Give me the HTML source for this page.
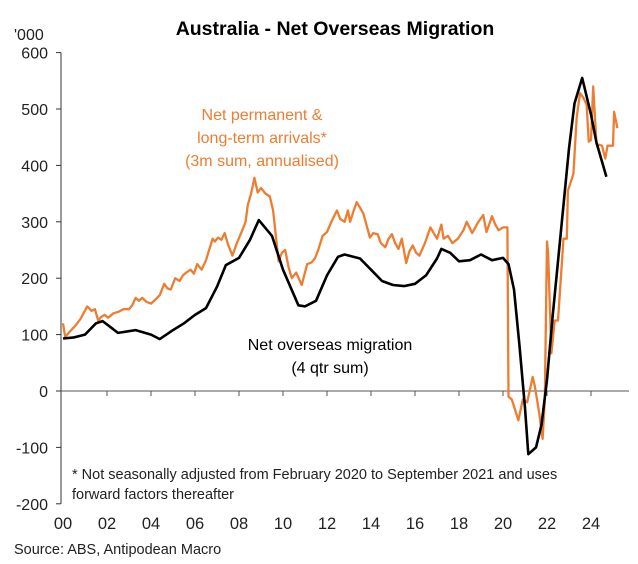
<!DOCTYPE html>
<html><head><meta charset="utf-8"><style>
html,body{margin:0;padding:0;background:#fff;}
svg{display:block;font-family:"Liberation Sans",Arial,sans-serif;}
</style></head><body>
<svg id="chart" width="638" height="564" viewBox="0 0 638 564">
<text x="335" y="35" text-anchor="middle" font-size="19.5" font-weight="bold" fill="#000">Australia - Net Overseas Migration</text>
<text x="14" y="40" font-size="16" fill="#222">'000</text>
<g id="yaxis"></g>
<g id="xaxis"></g>
<g id="series"></g>
<g fill="#ED7D31" font-size="16" text-anchor="middle">
<text x="262" y="120">Net permanent &amp;</text>
<text x="262" y="143">long-term arrivals*</text>
<text x="262" y="166">(3m sum, annualised)</text>
</g>
<g fill="#000" font-size="16" text-anchor="middle">
<text x="330" y="350">Net overseas migration</text>
<text x="330" y="373">(4 qtr sum)</text>
</g>
<g fill="#222" font-size="14.5">
<text x="72" y="479">* Not seasonally adjusted from February 2020 to September 2021 and uses</text>
<text x="72" y="499">forward factors thereafter</text>
</g>
<text x="14" y="554" font-size="14.5" fill="#222">Source: ABS, Antipodean Macro</text>
</svg>
<script>
const yTicks=[600,500,400,300,200,100,0,-100,-200];
const xTickLabels=["00","02","04","06","08","10","12","14","16","18","20","22","24"];
const xTickYears=[0,2,4,6,8,10,12,14,16,18,20,22,24];
const nomYears=[0,0.5,1,1.5,1.8,2.2,2.5,3.3,4,4.4,5,5.5,6,6.5,7,7.4,8,8.5,8.9,9.5,10,10.7,11,11.5,12,12.5,12.8,13.5,14,14.5,15,15.5,16,16.5,17,17.2,17.6,18,18.5,19,19.5,20,20.25,20.5,20.75,21,21.15,21.5,21.75,22,22.25,22.5,22.75,23,23.25,23.6,24,24.25,24.7];
const nomValues=[93,95,100,120,124,112,103,108,100,92,108,120,135,147,185,223,236,268,303,275,215,152,150,160,205,238,242,235,215,195,188,186,190,205,235,252,245,230,232,242,232,236,225,180,80,-30,-112,-100,-60,20,130,230,330,430,510,555,490,440,380];
const npltYears=[0,0.1,0.3,0.55,0.8,1.1,1.3,1.45,1.6,1.75,1.9,2.05,2.3,2.5,2.75,3.0,3.15,3.3,3.45,3.6,3.8,4.0,4.2,4.4,4.6,4.75,4.9,5.1,5.3,5.45,5.6,5.8,5.95,6.1,6.3,6.5,6.8,6.9,7.05,7.2,7.35,7.5,7.7,7.9,8.15,8.3,8.4,8.55,8.7,8.85,9.0,9.2,9.4,9.55,9.8,9.95,10.1,10.25,10.4,10.6,10.85,11.1,11.3,11.45,11.6,11.8,12.0,12.2,12.45,12.6,12.8,12.95,13.05,13.2,13.35,13.5,13.65,13.95,14.1,14.3,14.45,14.65,14.8,14.95,15.1,15.25,15.4,15.6,15.75,15.9,16.05,16.2,16.45,16.7,16.85,17.0,17.2,17.3,17.5,17.7,17.95,18.2,18.35,18.6,18.85,19.1,19.25,19.5,19.65,19.8,20.0,20.2,20.25,20.4,20.7,20.9,21.1,21.35,21.45,21.65,21.8,21.9,22.0,22.05,22.2,22.35,22.5,22.75,22.9,22.95,23.2,23.35,23.5,23.65,23.8,23.9,24.0,24.1,24.25,24.5,24.65,24.75,25.0,25.05,25.2];
const npltValues=[120,96,105,115,128,150,142,145,125,132,135,130,138,140,145,145,152,165,160,165,158,155,162,170,190,182,180,200,195,205,210,215,208,225,215,232,270,265,272,268,280,260,240,262,285,300,330,350,378,352,360,350,345,320,230,245,250,220,200,210,188,225,228,235,250,275,282,300,320,305,300,320,300,318,335,325,315,272,280,278,262,255,270,278,262,252,270,227,248,258,245,240,262,290,280,270,295,270,275,262,270,285,300,280,298,312,282,310,295,285,290,290,-10,-15,-52,-15,-20,25,8,-40,-85,-15,265,245,67,125,125,270,270,355,385,485,528,520,508,442,445,540,438,435,412,435,435,495,466];

const NS="http://www.w3.org/2000/svg";
const X0=63, PXY=22, Y0=391, PXV=0.564, AXL=61, AXR=629;
function xs(yr){return X0+yr*PXY;}
function ys(v){return Y0-v*PXV;}
function mk(tag,attrs,parent){const e=document.createElementNS(NS,tag);for(const k in attrs)e.setAttribute(k,attrs[k]);parent.appendChild(e);return e;}
const ya=document.getElementById('yaxis'), xa=document.getElementById('xaxis'), se=document.getElementById('series');
const yl=mk('line',{x1:AXL,x2:AXL,y1:ys(600),y2:ys(-200),stroke:'#333','stroke-width':1},ya);


yTicks.forEach(v=>{
  const t=mk('line',{x1:AXL-5,x2:AXL,y1:ys(v),y2:ys(v),stroke:'#333','stroke-width':1},ya);
  
  
  const l=mk('text',{x:48,y:ys(v)+6,'text-anchor':'end','font-size':16,fill:'#222'},ya);
  l.textContent=v;
  
  
});
const xl=mk('line',{x1:AXL,x2:AXR,y1:ys(0),y2:ys(0),stroke:'#555','stroke-width':1},xa);


xTickYears.forEach((yr,i)=>{
  if(i>0){const t=mk('line',{x1:xs(yr),x2:xs(yr),y1:ys(0),y2:ys(0)+5,stroke:'#555','stroke-width':1},xa);
  
  }
  const l=mk('text',{x:xs(yr),y:529,'text-anchor':'middle','font-size':16.5,fill:'#222'},xa);
  l.textContent=xTickLabels[i];
  
  
});
function pts(xsA,vs){return xsA.map((y,i)=>xs(y).toFixed(1)+','+ys(vs[i]).toFixed(1)).join(' ');}
const po=mk('polyline',{points:pts(npltYears,npltValues),fill:'none',stroke:'#ED7D31','stroke-width':2.3,'stroke-linejoin':'round'},se);


const pb=mk('polyline',{points:pts(nomYears,nomValues),fill:'none',stroke:'#000','stroke-width':2.6,'stroke-linejoin':'round'},se);


</script>
</body></html>
